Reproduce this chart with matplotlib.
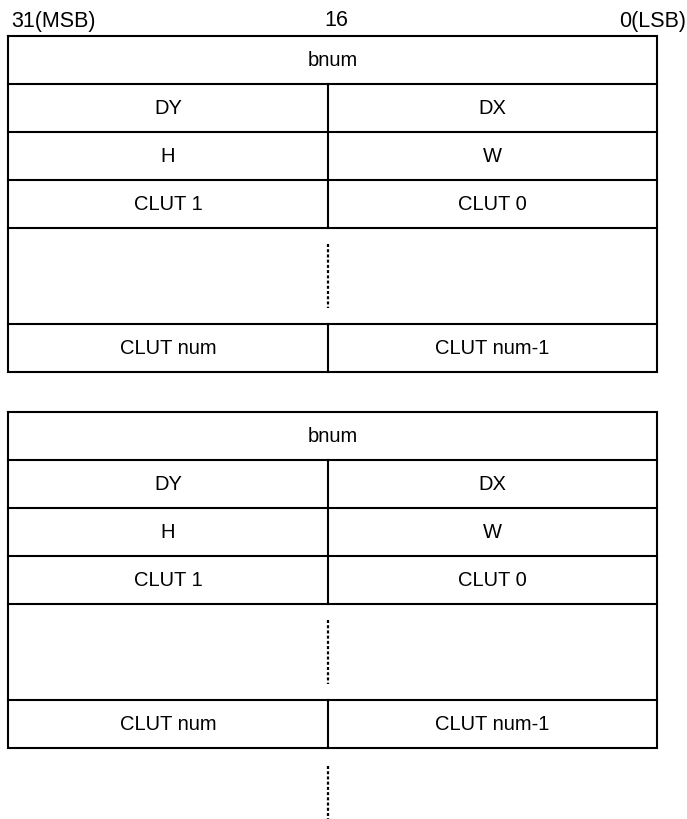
import matplotlib
matplotlib.use("Agg")
import matplotlib.pyplot as plt

plt.rcParams['font.family'] = ['Liberation Sans', 'DejaVu Sans']

# --- data ---
header_labels = ["31(MSB)", "16", "0(LSB)"]
left_labels = ["bnum", "DY", "H", "CLUT 1", None, "CLUT num"]
right_labels = [None, "DX", "W", "CLUT 0", None, "CLUT num-1"]
row_units = [1, 1, 1, 1, 2, 1]          # row heights in units
n_blocks = 2

# --- layout (pixel coordinates) ---
W, H = 687, 820
x_left, x_right, x_mid = 8, 657, 328
unit = 48
block_tops = [37, 413]
lw = 1.5
fs = 14.5

fig = plt.figure(figsize=(W / 100, H / 100), dpi=100)
ax = fig.add_axes([0, 0, 1, 1])
ax.set_xlim(0, W)
ax.set_ylim(H, 0)
ax.axis('off')

# header
ax.text(11, 21, header_labels[0], ha='left', va='center', fontsize=15.5)
ax.text(336, 21, header_labels[1], ha='center', va='center', fontsize=15.5)
ax.text(686, 21, header_labels[2], ha='right', va='center', fontsize=15.5)

dot_style = dict(color='black', lw=1.6, linestyle=(0, (1.35, 1.0)),
                 solid_capstyle='butt', dash_capstyle='butt')

for top in block_tops[:n_blocks]:
    y = top
    bounds = [y]
    for u in row_units:
        y += u * unit
        bounds.append(y)
    bottom = bounds[-1]
    # outer box
    ax.plot([x_left, x_right, x_right, x_left, x_left],
            [top, top, bottom, bottom, top], color='black', lw=lw,
            solid_joinstyle='miter')
    # inner horizontal lines
    for b in bounds[1:-1]:
        ax.plot([x_left, x_right], [b, b], color='black', lw=lw)
    for i, (ll, rl) in enumerate(zip(left_labels, right_labels)):
        y0, y1 = bounds[i], bounds[i + 1]
        yc = (y0 + y1) / 2
        if ll is None and rl is None:
            # ellipsis region: vertical dotted line
            ax.plot([x_mid, x_mid], [y0 + 16, y1 - 16], **dot_style)
        elif rl is None:
            ax.text((x_left + x_right) / 2, yc, ll, ha='center', va='center', fontsize=fs)
        else:
            ax.plot([x_mid, x_mid], [y0, y1], color='black', lw=lw)
            ax.text((x_left + x_mid) / 2, yc, ll, ha='center', va='center', fontsize=fs)
            ax.text((x_mid + x_right) / 2, yc, rl, ha='center', va='center', fontsize=fs)

# trailing continuation dots
ax.plot([x_mid, x_mid], [block_tops[-1] + sum(row_units) * unit + 18, 820], **dot_style)

fig.savefig("out.png", dpi=100)
